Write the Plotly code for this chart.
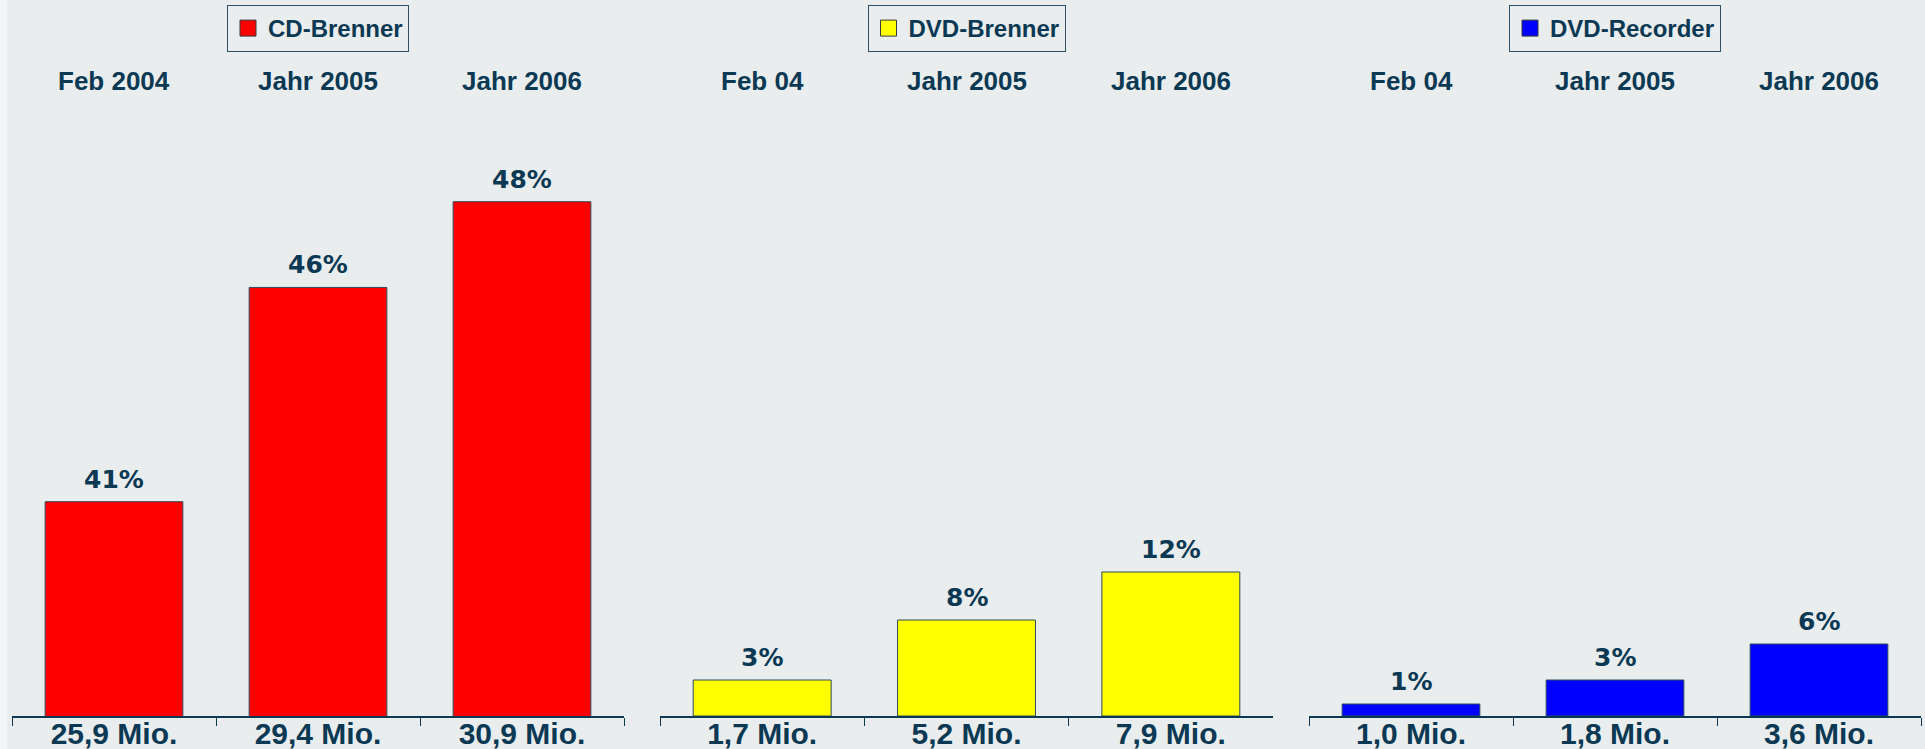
import plotly.graph_objects as go

# ---- data ----
series_names = ["CD-Brenner", "DVD-Brenner", "DVD-Recorder"]
cd_periods = ["Feb 2004", "Jahr 2005", "Jahr 2006"]
dvdb_periods = ["Feb 04", "Jahr 2005", "Jahr 2006"]
dvdr_periods = ["Feb 04", "Jahr 2005", "Jahr 2006"]
cd_pct = [41, 46, 48]
dvdb_pct = [3, 8, 12]
dvdr_pct = [1, 3, 6]
cd_units = ["25,9 Mio.", "29,4 Mio.", "30,9 Mio."]
dvdb_units = ["1,7 Mio.", "5,2 Mio.", "7,9 Mio."]
dvdr_units = ["1,0 Mio.", "1,8 Mio.", "3,6 Mio."]

# ---- style ----
BG = "#E9EDEE"
TXT = "#0B3954"
colors = ["#FF0000", "#FFFF00", "#0000FF"]
W, H = 1925, 749
ML, MR, MT, MB = 12, 4, 116, 33
PW = W - ML - MR
PH = H - MT - MB
domains = [[0, 612 / PW], [648 / PW, 1261 / PW], [1297 / PW, 1.0]]
yranges = [[36, 50], [0, 50], [0, 50]]

panels = [
    (series_names[0], cd_periods, cd_pct, cd_units),
    (series_names[1], dvdb_periods, dvdb_pct, dvdb_units),
    (series_names[2], dvdr_periods, dvdr_pct, dvdr_units),
]

fig = go.Figure()
annotations = []
layout_axes = {}
for i, (name, periods, pct, units) in enumerate(panels):
    n = "" if i == 0 else str(i + 1)
    xa, ya = "x" + n, "y" + n
    fig.add_trace(go.Bar(
        x=periods, y=pct, name=name, xaxis=xa, yaxis=ya,
        marker=dict(color=colors[i], line=dict(color="#2E4A5A", width=1)),
        showlegend=False, hoverinfo="skip",
    ))
    # legend-only entry with a larger square swatch
    fig.add_trace(go.Scatter(
        x=[None], y=[None], name=name, xaxis=xa, yaxis=ya, mode="markers",
        marker=dict(symbol="square", size=16, color=colors[i],
                    line=dict(color="#3A3A3A", width=1)),
        legend="legend" + n, showlegend=True, hoverinfo="skip",
    ))
    layout_axes["xaxis" + n] = dict(
        domain=domains[i], anchor=ya, type="category",
        categoryorder="array", categoryarray=periods,
        tickmode="array", tickvals=periods, ticktext=units,
        tickson="boundaries", ticks="outside", ticklen=8, tickwidth=1,
        tickcolor=TXT, showline=True, linecolor=TXT, linewidth=1.5,
        showgrid=False, zeroline=False, ticklabelstandoff=-10,
        tickfont=dict(family="Liberation Sans", size=30, color=TXT, weight="bold"),
        fixedrange=True, automargin=False,
    )
    layout_axes["yaxis" + n] = dict(
        domain=[0, 1], anchor=xa, range=yranges[i], visible=False,
        showgrid=False, zeroline=False, fixedrange=True, automargin=False,
    )
    for p, v in zip(periods, pct):
        annotations.append(dict(
            x=p, y=v, xref=xa, yref=ya, text=f"{v}%", showarrow=False,
            yanchor="bottom", yshift=6,
            font=dict(family="DejaVu Sans", size=25, color=TXT, weight="bold"),
        ))
        annotations.append(dict(
            x=p, y=1, xref=xa, yref="paper", text=p, showarrow=False,
            yanchor="middle", yshift=35,
            font=dict(family="Liberation Sans", size=26, color=TXT, weight="bold"),
        ))
    cx = (domains[i][0] + domains[i][1]) / 2
    layout_axes["legend" + n] = dict(
        x=cx, xanchor="center", y=1 + 111 / PH, yanchor="top",
        bgcolor=BG, bordercolor="#2F5064", borderwidth=1,
        font=dict(family="Liberation Sans", size=24, color=TXT, weight="bold"),
        itemwidth=30, itemsizing="trace",
    )

fig.update_layout(
    width=W, height=H,
    margin=dict(l=ML, r=MR, t=MT, b=MB, autoexpand=False),
    paper_bgcolor=BG, plot_bgcolor=BG,
    bargap=0.325,
    annotations=annotations,
    shapes=[dict(type="rect", xref="paper", yref="paper",
                 x0=-ML / PW, x1=(7 - ML) / PW, y0=-MB / PH, y1=1 + MT / PH,
                 fillcolor="#F2F4F5", line=dict(width=0), layer="below")],
    **layout_axes,
)

fig.write_html(
    "out.html",
    config={"displayModeBar": False},
    post_script="document.body.style.margin='0';document.body.style.overflow='hidden';",
)
